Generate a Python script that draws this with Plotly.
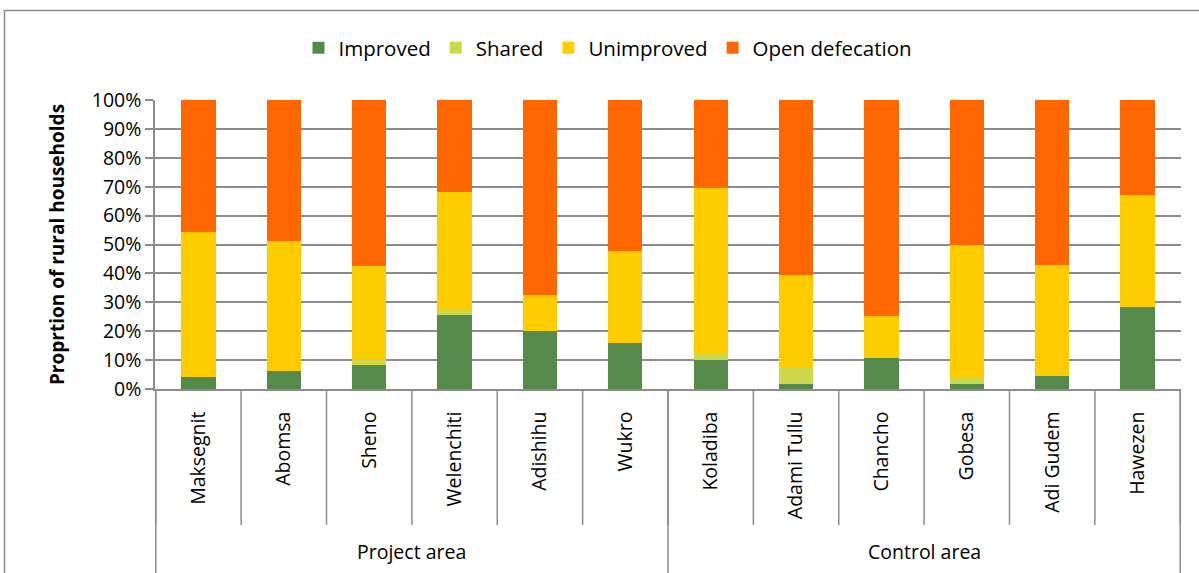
import plotly.graph_objects as go

groups = ["Project area", "Control area"]
group_sizes = [6, 6]
sites = ["Maksegnit", "Abomsa", "Sheno", "Welenchiti", "Adishihu", "Wukro",
         "Koladiba", "Adami Tullu", "Chancho", "Gobesa", "Adi Gudem", "Hawezen"]

improved = [4.0, 6.3, 8.2, 25.6, 20.2, 15.8, 10.0, 1.6, 10.7, 1.7, 4.4, 28.4]
shared = [0.0, 0.0, 2.3, 2.2, 0.0, 0.0, 2.0, 5.9, 0.0, 2.2, 0.0, 0.0]
unimproved = [50.3, 44.9, 32.1, 40.4, 12.3, 32.0, 57.5, 31.9, 14.6, 45.9, 38.6, 38.9]
open_def = [100 - a - b - c for a, b, c in zip(improved, shared, unimproved)]

series = [
    ("Improved", improved, "#558A4B"),
    ("Shared", shared, "#CFD84B"),
    ("Unimproved", unimproved, "#FFCC00"),
    ("Open defecation", open_def, "#FF6600"),
]

FONT = "Open Sans"
GRID = "#8C8C8C"

fig = go.Figure()
for name, vals, col in series:
    fig.add_trace(go.Bar(x=sites, y=vals, name=name, marker_color=col,
                         marker_line_width=0))

W, H = 1199, 573
L, R, T, B = 155, 1181, 100, 389
ph = B - T

def py(pix):
    return (B - pix) / ph

def px(pix):
    return (pix - L) / (R - L)

shapes = []
n = len(sites)
for i in range(n + 1):
    shapes.append(dict(type="line", xref="x", yref="paper", x0=i - 0.5, x1=i - 0.5,
                       y0=0, y1=py(525), line=dict(color=GRID, width=1.5)))
bounds = [0]
for s in group_sizes:
    bounds.append(bounds[-1] + s)
for b in bounds:
    shapes.append(dict(type="line", xref="x", yref="paper", x0=b - 0.5, x1=b - 0.5,
                       y0=0, y1=py(590), line=dict(color=GRID, width=1.5)))
shapes.append(dict(type="rect", xref="paper", yref="paper", x0=px(4.5), x1=px(1215),
                   y0=py(600), y1=py(10.5), line=dict(color="#8C8C8C", width=1.5),
                   layer="below"))

annotations = []
for g, s, b in zip(groups, group_sizes, bounds[:-1]):
    annotations.append(dict(text=g, xref="x", yref="paper", x=b + (s - 1) / 2,
                            y=py(551), showarrow=False, xanchor="center", yanchor="middle",
                            font=dict(family=FONT, size=19.5, color="#000000")))

fig.update_layout(
    width=W, height=H,
    margin=dict(l=L, r=W - R, t=T, b=H - B, pad=0),
    paper_bgcolor="white", plot_bgcolor="white",
    barmode="stack", bargap=0.6,
    font=dict(family=FONT, size=19.5, color="#000000"),
    showlegend=True,
    legend=dict(orientation="h", x=px(608), xanchor="center", y=py(48), yanchor="middle",
                font=dict(family=FONT, size=20.5), traceorder="normal",
                itemwidth=30, bgcolor="rgba(0,0,0,0)"),
    shapes=shapes,
    annotations=annotations,
    xaxis=dict(type="category", showline=True, linecolor=GRID, linewidth=1.5,
               ticks="", tickangle=-90, tickfont=dict(family=FONT, size=19.5),
               showgrid=False, ticklabelstandoff=13),
    yaxis=dict(range=[0, 100], dtick=10, ticksuffix="%", showline=True, linecolor=GRID,
               linewidth=1.5, ticks="outside", ticklen=8, tickcolor=GRID, tickwidth=1.5,
               showgrid=True, gridcolor=GRID, gridwidth=1.5, zeroline=False,
               tickfont=dict(family=FONT, size=19.5),
               title=dict(text="<b>Proprtion of rural households</b>",
                          font=dict(family=FONT, size=19), standoff=22)),
)

fig.write_html("out.html", config={"displayModeBar": False},
               post_script="document.body.style.margin='0';document.body.style.overflow='hidden';")
